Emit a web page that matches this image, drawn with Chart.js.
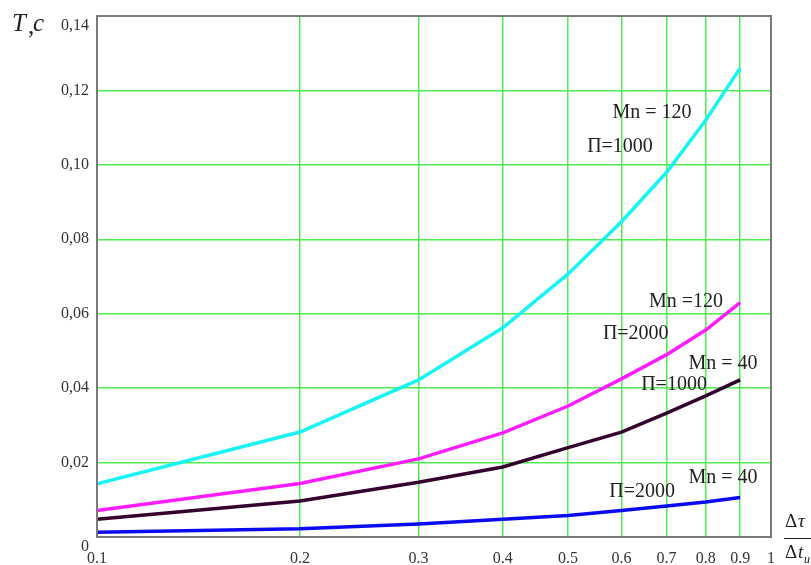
<!DOCTYPE html>
<html>
<head>
<meta charset="utf-8">
<script src="https://cdn.jsdelivr.net/npm/chart.js@4/dist/chart.umd.min.js"></script>
<style>
  html, body { margin: 0; padding: 0; background: #fff; }
  #wrap { width: 811px; height: 565px; }
</style>
</head>
<body>
<div id="wrap"><canvas id="chart" width="811" height="565"></canvas></div>
<script>
const X_VALUES = [0.1, 0.2, 0.3, 0.4, 0.5, 0.6, 0.7, 0.8, 0.9];
const X_TICKS = [0.1, 0.2, 0.3, 0.4, 0.5, 0.6, 0.7, 0.8, 0.9, 1];
const Y_TICKS = [0, 0.02, 0.04, 0.06, 0.08, 0.1, 0.12, 0.14];

// T, c for each curve
const mn120p1000 = [0.0143, 0.0282, 0.0422, 0.0562, 0.0707, 0.0847, 0.098, 0.112, 0.126];
const mn120p2000 = [0.0071, 0.0144, 0.021, 0.028, 0.0352, 0.0425, 0.049, 0.0556, 0.063];
const mn40p1000 = [0.0048, 0.0097, 0.0147, 0.0188, 0.024, 0.0282, 0.0333, 0.0379, 0.0422];
const mn40p2000 = [0.0013, 0.0022, 0.0035, 0.0048, 0.0058, 0.0071, 0.0083, 0.0094, 0.0106];

const serif = "'Liberation Serif', 'DejaVu Serif', serif";
const GRID = "#50ee50";

// curve captions: text, x value, y value
const captions = [
  ["Mn = 120", 0.666, 0.114],
  ["\u041F=1000", 0.597, 0.105],
  ["Mn =120", 0.748, 0.0632],
  ["\u041F=2000", 0.63, 0.0546],
  ["Mn = 40", 0.849, 0.0465],
  ["\u041F=1000", 0.718, 0.0408],
  ["Mn = 40", 0.849, 0.0159],
  ["\u041F=2000", 0.644, 0.0121],
];

function series(values) {
  return X_VALUES.map((x, i) => ({ x, y: values[i] }));
}

const textPlugin = {
  id: "texts",
  afterDraw(chart) {
    const { ctx, chartArea, scales } = chart;
    ctx.save();
    ctx.strokeStyle = "#7a7a7a";
    ctx.lineWidth = 2;
    ctx.strokeRect(chartArea.left, chartArea.top, chartArea.right - chartArea.left, chartArea.bottom - chartArea.top);

    ctx.fillStyle = "#222";
    ctx.font = `20px ${serif}`;
    ctx.textAlign = "center";
    ctx.textBaseline = "middle";
    captions.forEach(([t, x, y]) => {
      ctx.fillText(t, scales.x.getPixelForValue(x), scales.y.getPixelForValue(y));
    });

    // axis titles
    ctx.textAlign = "left";
    ctx.font = `italic 25px ${serif}`;
    ctx.fillText("T", 12, 24);
    ctx.font = `25px ${serif}`;
    ctx.fillText(",", 28, 27);
    ctx.font = `italic 25px ${serif}`;
    ctx.fillText("c", 33, 24);

    ctx.font = `19px ${serif}`;
    ctx.fillText("\u0394", 785, 522);
    ctx.font = `italic 19px ${serif}`;
    ctx.fillText("\u03C4", 798, 522);
    ctx.strokeStyle = "#222";
    ctx.lineWidth = 1;
    ctx.beginPath();
    ctx.moveTo(784, 538.5);
    ctx.lineTo(811, 538.5);
    ctx.stroke();
    ctx.font = `19px ${serif}`;
    ctx.fillText("\u0394", 785, 553);
    ctx.font = `italic 19px ${serif}`;
    ctx.fillText("t", 798, 553);
    ctx.font = `italic 12px ${serif}`;
    ctx.fillText("u", 804, 560);
    ctx.restore();
  },
};

function line(data, color) {
  return {
    data: series(data),
    borderColor: color,
    backgroundColor: color,
    borderWidth: 3.5,
    pointRadius: 0,
    tension: 0,
    fill: false,
  };
}

new Chart(document.getElementById("chart"), {
  type: "line",
  data: {
    datasets: [
      line(mn120p1000, "#18f4f4"),
      line(mn120p2000, "#ff1cff"),
      line(mn40p1000, "#34002e"),
      line(mn40p2000, "#0a0af5"),
    ],
  },
  options: {
    responsive: false,
    animation: false,
    devicePixelRatio: 1,
    layout: { padding: { left: 0, top: 16, right: 40, bottom: 0 } },
    plugins: { legend: { display: false }, tooltip: { enabled: false } },
    scales: {
      x: {
        type: "logarithmic",
        min: 0.1,
        max: 1,
        afterBuildTicks: (scale) => { scale.ticks = X_TICKS.map((v) => ({ value: v })); },
        afterFit: (scale) => {
          scale.height = 28;
          scale.paddingLeft = 0;
          scale.paddingRight = 0;
        },
        grid: {
          color: (c) => (c.tick && (c.tick.value === 0.1 || c.tick.value === 1) ? "rgba(0,0,0,0)" : GRID),
          lineWidth: 1.5,
          drawTicks: false,
        },
        border: { color: "#7a7a7a", width: 2 },
        ticks: {
          autoSkip: false,
          maxRotation: 0,
          padding: 12,
          color: "#333",
          font: { family: serif, size: 16 },
          callback: (v) => String(v),
        },
      },
      y: {
        min: 0,
        max: 0.14,
        afterBuildTicks: (scale) => { scale.ticks = Y_TICKS.map((v) => ({ value: v })); },
        afterFit: (scale) => {
          scale.width = 97;
          scale.paddingTop = 0;
          scale.paddingBottom = 0;
        },
        grid: {
          color: (c) => (c.tick && (c.tick.value === 0 || c.tick.value === 0.14) ? "rgba(0,0,0,0)" : GRID),
          lineWidth: 1.5,
          drawTicks: false,
        },
        border: { color: "#7a7a7a", width: 2 },
        ticks: {
          padding: 8,
          color: "#333",
          font: { family: serif, size: 16 },
          callback: (v) => {
            if (v === 0) return ["", "0"];
            const s = v.toFixed(2).replace(".", ",");
            return v === 0.14 ? ["", s] : s;
          },
        },
      },
    },
  },
  plugins: [textPlugin],
});
</script>
</body>
</html>
